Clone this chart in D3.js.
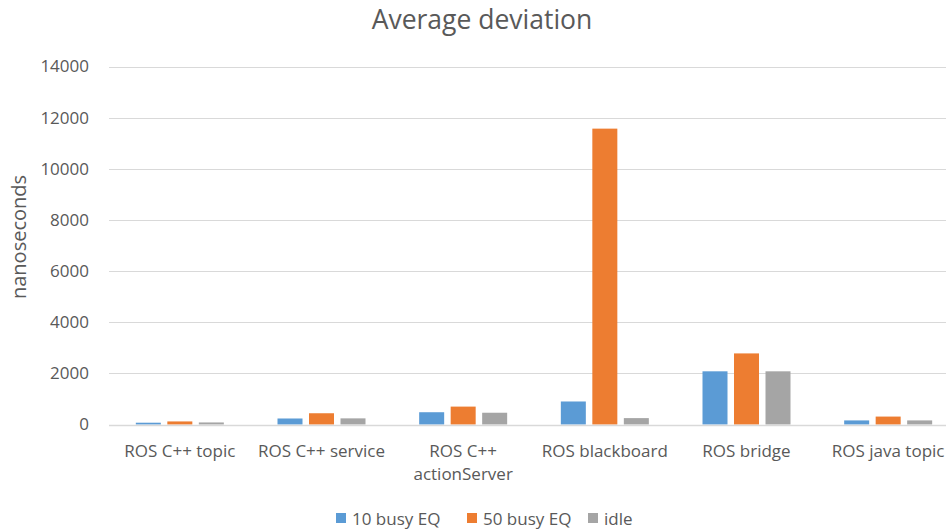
<!DOCTYPE html>
<meta charset="utf-8">
<style>
body { margin: 0; background: #fff; }
text { font-family: "Open Sans", Lato, sans-serif; fill: #595959; }
</style>
<body>
<script src="https://d3js.org/d3.v7.min.js"></script>
<script>

var width = 946,
    height = 529;

// data
var categories = ["ROS C++ topic", "ROS C++ service", "ROS C++ actionServer", "ROS blackboard", "ROS bridge", "ROS java topic"];
var seriesNames = ["10 busy EQ", "50 busy EQ", "idle"];
var busy10 = [70, 235, 480, 900, 2080, 160];
var busy50 = [120, 440, 700, 11570, 2780, 310];
var idle = [80, 240, 460, 250, 2080, 160];
var yTicks = [0, 2000, 4000, 6000, 8000, 10000, 12000, 14000];
var colors = ["#5B9BD5", "#ED7D31", "#A5A5A5"];

var series = [busy10, busy50, idle];

var svg = d3.select("body").append("svg")
    .attr("width", width)
    .attr("height", height);

var x = d3.scaleBand()
    .domain(categories)
    .range([109, 959]);

var y = d3.scaleLinear()
    .domain([0, 14000])
    .range([424.5, 66.5]);

var barW = 25, barGap = 6.5;
var xs = d3.scaleBand().domain(seriesNames).range([0, 3 * barW + 2 * barGap]).paddingInner(barGap / (barW + barGap));

// gridlines
svg.append("g")
  .selectAll("line")
    .data(yTicks)
  .enter().append("line")
    .attr("x1", 109)
    .attr("x2", 959)
    .attr("y1", function(d){ return Math.round(y(d)) + 0.5; })
    .attr("y2", function(d){ return Math.round(y(d)) + 0.5; })
    .attr("stroke", "#D9D9D9")
    .attr("stroke-width", 1);

// y tick labels
svg.append("g")
  .selectAll("text")
    .data(yTicks)
  .enter().append("text")
    .attr("x", 89)
    .attr("y", function(d){ return y(d); })
    .attr("dy", "0.35em")
    .attr("text-anchor", "end")
    .style("font-size", "17px")
    .text(function(d){ return d; });

// bars
var groupOffset = (x.bandwidth() - xs.range()[1]) / 2;
series.forEach(function(vals, si){
  svg.append("g")
    .selectAll("rect")
      .data(vals)
    .enter().append("rect")
      .attr("x", function(d, i){ return x(categories[i]) + groupOffset + xs(seriesNames[si]); })
      .attr("width", xs.bandwidth())
      .attr("y", function(d){ return y(d); })
      .attr("height", function(d){ return y(0) - y(d); })
      .attr("fill", colors[si]);
});

// axis baseline
svg.append("line")
    .attr("x1", 109).attr("x2", 959)
    .attr("y1", Math.round(y(0)) + 0.5).attr("y2", Math.round(y(0)) + 0.5)
    .attr("stroke", "#D9D9D9")
    .attr("stroke-width", 1.5);

// category labels, wrapped like the original
var catLines = {"ROS C++ actionServer": ["ROS C++", "actionServer"]};
svg.append("g")
  .selectAll("text")
    .data(categories)
  .enter().append("text")
    .attr("text-anchor", "middle")
    .style("font-size", "17px")
    .each(function(d){
      var lines = catLines[d] || [d];
      var t = d3.select(this);
      lines.forEach(function(l, i){
        t.append("tspan")
          .attr("x", x(d) + x.bandwidth() / 2)
          .attr("y", 457 + i * 23)
          .text(l);
      });
    });

// title
svg.append("text")
    .attr("x", 482)
    .attr("y", 29)
    .attr("text-anchor", "middle")
    .style("font-size", "26.5px")
    .text("Average deviation");

// y axis title
svg.append("text")
    .attr("transform", "translate(26,237) rotate(-90)")
    .attr("text-anchor", "middle")
    .style("font-size", "20px")
    .text("nanoseconds");

// legend
var legendX = [336, 467, 588];
var legend = svg.append("g")
  .selectAll("g")
    .data(seriesNames)
  .enter().append("g")
    .attr("transform", function(d, i){ return "translate(" + legendX[i] + ",0)"; });

legend.append("rect")
    .attr("x", 0)
    .attr("y", 513)
    .attr("width", 10)
    .attr("height", 10)
    .attr("fill", function(d, i){ return colors[i]; });

legend.append("text")
    .attr("x", 16)
    .attr("y", 525)
    .style("font-size", "17px")
    .text(function(d){ return d; });

</script>
